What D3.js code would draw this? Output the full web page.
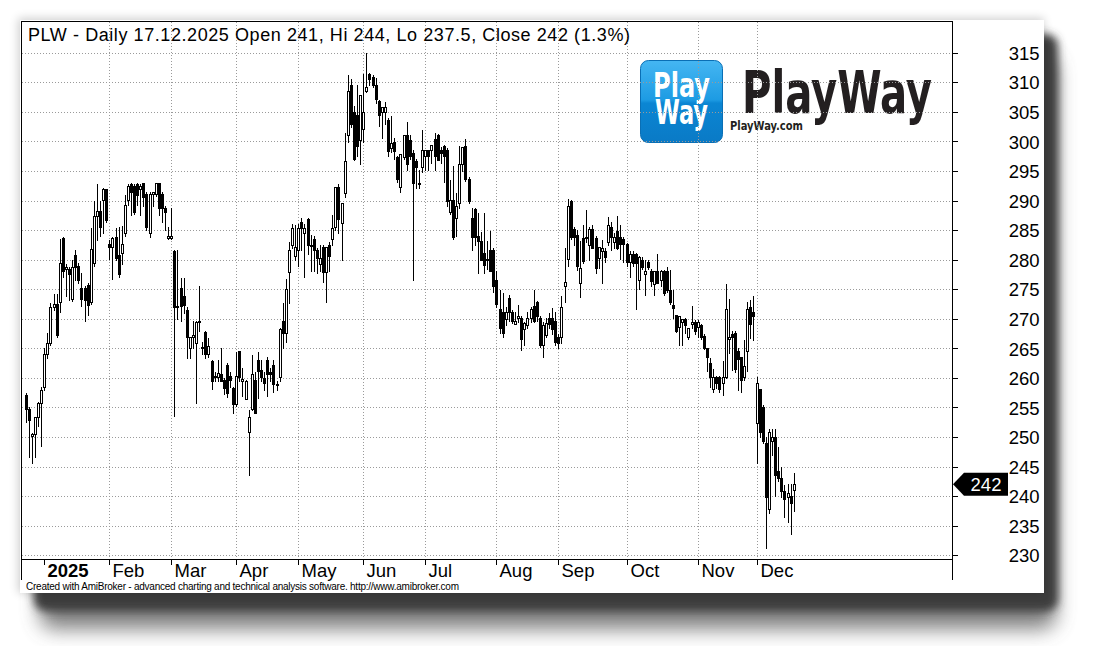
<!DOCTYPE html>
<html><head><meta charset="utf-8">
<script src="https://cdn.jsdelivr.net/npm/d3@7"></script>
<style>html,body{margin:0;padding:0;background:#fff;} svg{display:block;}</style>
</head><body>
<svg id="c" width="1097" height="646"></svg>
<script>
// ---- DATA ----
const ticker = "PLW";
const titleText = "PLW - Daily 17.12.2025 Open 241, Hi 244, Lo 237.5, Close 242 (1.3%)";
const footerText = "Created with AmiBroker - advanced charting and technical analysis software. http://www.amibroker.com";
const firstDate = "2024-12-18";
const holidays = ["2024-12-24","2024-12-25","2024-12-26","2024-12-31","2025-01-01","2025-01-06",
  "2025-04-18","2025-04-21","2025-05-01","2025-06-19","2025-08-15","2025-11-11"];
const monthNames = ["Jan","Feb","Mar","Apr","May","Jun","Jul","Aug","Sep","Oct","Nov","Dec"];
const yTickValues = [230,235,240,245,250,255,260,265,270,275,280,285,290,295,300,305,310,315];
const lastClose = 242;

const open = [257.1,254.7,250.1,250.5,253.4,255.7,258.4,264.1,265.9,272.0,272.5,272.8,283.6,278.4,278.4,273.3,280.8,279.0,275.2,275.2,
275.7,272.8,279.4,287.4,288.3,290.1,291.9,282.7,282.1,283.9,280.8,281.2,284.5,290.1,292.8,292.5,292.8,291.9,292.9,291.1,
284.5,291.1,291.1,292.9,291.1,288.7,283.6,283.6,281.4,272.0,275.2,273.8,271.5,265.0,267.0,265.9,269.5,265.2,267.7,264.0,
262.8,260.2,260.2,260.7,259.6,262.1,260.3,258.3,255.6,264.5,259.5,256.5,250.9,254.7,259.7,263.1,261.3,260.0,263.1,261.0,
262.1,258.9,260.2,269.6,267.6,277.9,282.4,280.6,281.7,286.3,284.5,286.8,282.5,283.5,281.7,279.3,282.1,277.9,282.5,283.5,
285.5,292.3,286.2,291.3,301.1,309.6,305.0,304.4,300.3,302.1,308.6,311.4,310.9,309.6,306.8,304.9,304.9,303.6,298.8,299.9,
297.4,292.3,297.4,301.1,300.3,298.0,296.7,293.0,295.7,297.6,298.5,298.5,300.4,301.1,298.6,299.3,298.6,288.0,290.1,287.0,
289.6,296.1,299.2,293.6,287.0,288.6,284.0,283.1,281.1,280.1,281.7,281.7,276.6,271.6,271.1,270.0,273.5,271.1,269.1,270.1,
270.1,268.2,269.0,270.1,272.1,272.9,270.1,265.6,267.3,270.1,270.1,269.6,267.0,267.0,275.5,280.1,290.0,285.1,284.2,276.0,
283.7,283.9,282.5,285.2,283.7,280.3,281.4,281.5,283.0,285.5,283.0,284.9,283.9,283.5,282.6,279.6,281.0,281.0,276.5,280.0,
277.5,279.6,278.0,275.9,278.0,276.5,278.0,278.0,274.9,272.4,270.6,268.6,269.5,270.0,266.9,269.1,269.4,268.6,269.0,267.1,
265.0,262.5,258.1,260.1,260.1,259.1,260.1,266.5,267.5,267.6,264.5,263.5,260.1,264.6,272.0,271.1,252.4,258.1,255.1,249.0,
237.9,249.4,250.0,244.2,243.0,240.9,239.9,240.0,241.0];
const high = [257.5,255.0,250.6,253.4,256.0,258.4,265.1,267.6,272.6,274.2,274.2,283.5,283.8,279.2,278.8,279.9,281.7,279.4,277.8,275.5,
276.0,285.3,290.0,292.8,290.0,292.2,292.0,283.3,283.8,285.3,285.5,285.7,291.0,292.8,292.9,292.8,292.9,292.8,292.9,291.4,
291.4,291.5,292.9,292.9,291.4,289.0,285.5,288.7,281.7,281.7,276.9,276.9,272.0,267.0,269.7,269.7,275.6,266.0,268.0,266.7,
263.1,261.0,263.1,265.0,260.0,262.5,261.0,258.5,264.4,264.6,261.6,259.6,254.5,263.8,261.0,264.4,263.1,261.0,263.5,261.6,
263.0,259.5,268.5,272.7,276.8,283.0,286.0,285.8,286.1,287.1,286.0,287.0,284.2,284.0,282.0,282.4,282.5,282.1,283.0,287.5,
292.3,292.8,289.5,301.5,311.3,310.6,306.0,309.5,307.8,311.4,315.0,311.5,311.3,310.8,307.0,305.8,306.7,304.0,304.3,300.5,
297.5,297.9,301.1,303.3,301.0,298.5,297.0,295.2,302.0,298.5,298.6,299.4,301.5,301.2,299.0,299.4,298.8,293.5,295.9,291.3,
299.2,299.0,300.4,294.0,288.7,288.8,287.9,284.6,287.9,283.1,284.8,282.0,278.0,274.9,274.4,272.0,274.0,271.5,271.1,272.4,
270.5,269.5,271.1,272.0,274.9,273.0,270.5,269.5,270.1,271.0,271.8,271.1,267.5,273.8,282.0,290.2,290.1,285.5,285.0,283.1,
285.9,288.4,285.6,285.9,284.0,282.1,283.3,282.0,287.2,286.3,284.5,287.3,285.8,283.8,282.8,281.5,281.5,281.2,280.6,280.4,
279.9,279.9,278.5,278.0,281.0,278.2,278.3,278.8,278.2,274.8,270.6,270.4,270.0,270.2,268.5,272.2,269.8,269.8,269.2,267.5,
265.1,263.3,261.5,260.3,260.3,262.9,275.9,273.3,268.0,267.9,265.0,263.6,266.4,272.9,273.1,273.9,260.2,258.2,255.5,250.0,
251.3,251.3,251.3,248.4,244.9,241.9,242.0,242.0,244.0];
const low = [252.5,246.6,245.6,246.6,251.8,248.5,258.0,263.3,265.5,271.5,267.0,271.1,277.0,273.8,273.2,273.0,276.6,276.0,272.1,269.7,
270.7,272.5,279.0,283.3,284.0,284.5,286.4,280.1,276.7,280.0,277.0,279.2,284.0,289.3,287.5,287.8,289.3,287.5,289.0,285.0,
283.9,289.0,290.8,287.5,286.4,285.0,283.5,283.5,253.5,270.0,269.7,271.0,263.3,263.3,265.0,255.8,268.0,264.0,263.3,263.5,
258.1,259.5,259.4,259.4,257.3,256.8,258.5,254.0,255.3,259.5,256.9,256.5,243.5,254.5,254.0,256.6,259.5,258.0,257.0,259.5,
257.6,258.0,259.5,265.1,266.1,272.6,281.9,280.0,279.0,281.7,277.1,281.0,278.0,278.0,277.8,278.0,276.2,272.8,278.0,282.4,
285.0,284.5,279.9,290.6,299.9,302.5,296.8,297.6,296.2,299.9,308.3,309.5,309.2,306.5,302.6,300.5,303.0,297.5,298.2,297.0,
293.2,291.4,297.0,295.1,297.0,276.6,292.1,292.1,294.9,295.2,295.2,296.3,295.2,296.9,296.3,293.2,289.1,287.8,283.5,284.0,
288.7,295.0,293.3,289.6,281.7,282.4,277.7,280.0,277.7,278.4,278.0,274.5,272.0,267.6,267.0,269.0,269.6,269.3,269.1,269.5,
264.7,265.6,268.5,269.5,269.5,269.6,265.3,263.6,267.0,268.5,267.5,265.5,265.1,265.9,272.9,279.0,283.5,282.5,278.3,273.7,
279.5,283.0,280.0,282.0,277.7,278.6,276.0,279.6,282.4,281.7,282.0,281.8,280.1,279.6,279.0,277.0,279.0,271.7,275.1,278.5,
274.1,278.5,275.6,274.1,276.0,275.6,274.1,274.5,272.5,270.2,267.7,265.6,265.5,267.6,266.6,268.5,267.5,267.0,266.6,264.9,
261.1,258.4,257.7,258.3,257.7,257.1,260.0,264.2,261.3,261.0,258.0,257.6,259.6,261.1,266.7,266.4,245.6,250.0,249.0,231.2,
237.1,247.0,240.0,242.5,239.9,236.5,235.6,233.6,237.5];
const close = [254.7,252.8,250.5,253.4,255.7,258.0,264.1,265.9,272.0,272.5,267.2,279.4,278.1,278.8,277.5,278.8,278.8,276.5,273.3,273.2,
272.4,281.8,287.4,288.3,285.5,291.9,286.7,282.1,283.6,280.2,277.5,282.7,289.3,292.5,291.4,288.1,291.0,292.5,290.6,285.5,
291.1,291.4,292.9,288.7,288.7,288.0,284.0,284.0,272.0,272.1,272.1,272.4,266.9,266.9,267.2,269.5,269.6,265.0,264.0,265.4,
259.4,260.4,260.8,259.4,258.3,257.5,259.7,255.6,260.3,260.2,259.8,259.4,253.4,260.7,254.1,261.1,260.2,259.2,260.7,260.7,
258.9,258.9,268.2,267.6,275.1,281.7,285.4,282.1,285.4,285.3,285.4,282.5,282.3,281.6,280.2,280.2,277.9,282.1,280.7,285.4,
292.3,286.8,289.5,296.6,308.6,303.0,297.0,299.3,307.8,305.0,309.2,310.6,309.6,307.2,304.4,305.8,305.8,298.3,299.8,298.3,
293.6,297.9,301.1,296.1,297.6,293.0,295.6,293.0,298.5,298.5,297.6,299.4,297.5,296.9,298.0,297.6,290.0,290.1,283.9,289.1,
296.1,299.0,293.6,290.0,283.9,283.9,283.1,280.0,279.1,280.1,278.0,275.5,272.5,268.4,267.6,271.1,271.1,269.6,269.7,270.5,
266.5,269.3,270.1,271.6,269.7,270.4,265.6,269.0,269.3,269.2,268.2,266.1,265.9,272.0,276.2,289.1,283.9,283.9,279.0,278.6,
279.7,283.7,285.2,282.0,278.6,282.1,282.0,280.4,285.9,283.8,283.9,282.0,282.6,282.6,279.6,281.0,279.4,279.4,280.4,278.8,
278.0,278.8,276.4,278.0,276.0,278.0,274.3,274.9,272.8,271.8,268.0,270.4,270.0,269.0,268.5,269.4,268.0,269.4,267.0,265.0,
263.5,260.1,260.1,259.1,258.1,260.1,271.6,267.0,267.0,261.5,263.2,259.6,262.0,271.6,269.1,270.5,259.1,250.9,249.4,239.9,
250.9,250.0,243.6,243.0,240.8,239.5,240.5,238.8,242.0];

// ---- trading calendar (categories) ----
function tradingDays(startStr, n) {
  const out = [];
  const d = new Date(startStr + "T12:00:00Z");
  const hol = new Set(holidays);
  while (out.length < n) {
    const wd = d.getUTCDay();
    const s = d.toISOString().slice(0,10);
    if (wd !== 0 && wd !== 6 && !hol.has(s)) out.push(new Date(d));
    d.setUTCDate(d.getUTCDate() + 1);
  }
  return out;
}
const dates = tradingDays(firstDate, close.length);
const bars = dates.map((dt, i) => ({i, date: dt, o: open[i], h: high[i], l: low[i], c: close[i]}));
const monthTicks = [];
for (let i = 1; i < dates.length; i++) {
  if (dates[i].getUTCMonth() !== dates[i-1].getUTCMonth()) {
    const m = dates[i].getUTCMonth();
    monthTicks.push({i, label: m === 0 ? String(dates[i].getUTCFullYear()) : monthNames[m], year: m === 0});
  }
}

// ---- LAYOUT ----
const svg = d3.select("#c");
const card = {x: 20, y: 20, w: 1024, h: 573};
const plot = {left: 21, top: 21, right: 952, bottom: 559};
const x = d3.scaleLinear().domain([0, 248]).range([25.7, 25.7 + 3.097 * 248]);
const y = d3.scaleLinear().domain([230, 315]).range([555.3, 52.7]);

const defs = svg.append("defs");
const f1 = defs.append("filter").attr("id","blurA").attr("x","-10%").attr("y","-10%").attr("width","120%").attr("height","130%");
f1.append("feGaussianBlur").attr("stdDeviation", 4);
const f2 = defs.append("filter").attr("id","blurB").attr("x","-10%").attr("y","-10%").attr("width","120%").attr("height","130%");
f2.append("feGaussianBlur").attr("stdDeviation", 10);
const f3 = defs.append("filter").attr("id","blurC").attr("x","-10%").attr("y","-10%").attr("width","120%").attr("height","130%");
f3.append("feGaussianBlur").attr("stdDeviation", 5);
const lg = defs.append("linearGradient").attr("id","blueG").attr("x1",0).attr("y1",0).attr("x2",0).attr("y2",1);
lg.append("stop").attr("offset","0%").attr("stop-color","#45b6f2");
lg.append("stop").attr("offset","48%").attr("stop-color","#1d9be3");
lg.append("stop").attr("offset","52%").attr("stop-color","#0b86d3");
lg.append("stop").attr("offset","100%").attr("stop-color","#0a7ac6");

// shadows
svg.append("rect").attr("x", card.x + 20).attr("y", card.y + 36).attr("width", card.w - 8).attr("height", card.h)
  .attr("rx", 14).attr("fill", "#555").attr("opacity", 0.75).attr("filter", "url(#blurB)");
svg.append("rect").attr("x", card.x + 14).attr("y", card.y + 14).attr("width", card.w).attr("height", card.h + 4)
  .attr("rx", 12).attr("fill", "#3e3e3e").attr("filter", "url(#blurA)");
svg.append("rect").attr("x", card.x - 2).attr("y", card.y - 2).attr("width", card.w + 2).attr("height", card.h + 2)
  .attr("fill", "#000").attr("opacity", 0.18).attr("filter", "url(#blurC)");
// card
svg.append("rect").attr("x", card.x).attr("y", card.y).attr("width", card.w).attr("height", card.h).attr("fill", "#fff");

// ---- logo ----
const logoFont = "DejaVu Sans Condensed, DejaVu Sans";
const logo = svg.append("g");
logo.append("rect").attr("x", 640.5).attr("y", 60.5).attr("width", 82).attr("height", 82).attr("rx", 8)
  .attr("fill", "url(#blueG)").attr("stroke", "#0a6fb5").attr("stroke-width", 1);
const lt1 = logo.append("text").attr("font-family", logoFont).attr("font-weight", "bold").attr("fill", "#fff").attr("font-size", 33);
lt1.append("tspan").attr("x", 653).attr("y", 96.5).attr("textLength", 57).attr("lengthAdjust", "spacingAndGlyphs").text("Play");
lt1.append("tspan").attr("x", 655).attr("y", 124).attr("textLength", 53).attr("lengthAdjust", "spacingAndGlyphs").text("Way");
const lt2 = logo.append("text").attr("font-family", logoFont).attr("font-weight", "bold").attr("fill", "#231f20");
lt2.append("tspan").attr("x", 742).attr("y", 113).attr("font-size", 59).attr("textLength", 190).attr("lengthAdjust", "spacingAndGlyphs").text("PlayWay");
lt2.append("tspan").attr("x", 730).attr("y", 129.5).attr("font-size", 12).attr("textLength", 73).attr("lengthAdjust", "spacingAndGlyphs").text("PlayWay.com");

// ---- grid ----
const grid = svg.append("g").attr("stroke", "#9a9a9a").attr("stroke-width", 1).attr("stroke-dasharray", "1,2").attr("shape-rendering", "crispEdges");
grid.selectAll("line.h").data(yTickValues).join("line")
  .attr("x1", plot.left + 1).attr("x2", plot.right)
  .attr("y1", d => Math.round(y(d)) + 0.5).attr("y2", d => Math.round(y(d)) + 0.5);
grid.selectAll("line.v").data(monthTicks.filter(t => !t.year)).join("line")
  .attr("x1", d => Math.round(x(d.i)) + 0.5).attr("x2", d => Math.round(x(d.i)) + 0.5)
  .attr("y1", plot.top + 1).attr("y2", plot.bottom);

// ---- candles ----
const cg = svg.append("g").attr("shape-rendering", "crispEdges");
const cx = d => Math.round(x(d.i));
cg.selectAll("line.w").data(bars).join("line")
  .attr("x1", d => cx(d) + 0.5).attr("x2", d => cx(d) + 0.5)
  .attr("y1", d => Math.round(y(d.h))).attr("y2", d => Math.round(y(d.l)) + 1)
  .attr("stroke", "#000").attr("stroke-width", 1);
cg.selectAll("rect.b").data(bars).join("rect")
  .attr("x", d => cx(d) - 0.5)
  .attr("y", d => Math.round(y(Math.max(d.o, d.c))) + 0.5)
  .attr("width", 2)
  .attr("height", d => Math.max(1, Math.round(y(Math.min(d.o, d.c))) - Math.round(y(Math.max(d.o, d.c)))))
  .attr("fill", d => d.c >= d.o ? "#fff" : "#000")
  .attr("stroke", "#000").attr("stroke-width", 1);

// ---- frame & axes ----
const fr = svg.append("g").attr("stroke", "#000").attr("stroke-width", 1).attr("shape-rendering", "crispEdges");
fr.append("line").attr("x1", 21.5).attr("x2", 21.5).attr("y1", 21).attr("y2", 580);
fr.append("line").attr("x1", 21).attr("x2", 952).attr("y1", 21.5).attr("y2", 21.5);
fr.append("line").attr("x1", 952.5).attr("x2", 952.5).attr("y1", 21).attr("y2", 580);
fr.append("line").attr("x1", 21).attr("x2", 952).attr("y1", 559.5).attr("y2", 559.5);

const yAxis = d3.axisRight(y).tickValues(yTickValues).tickSize(5).tickFormat(d3.format("d"));
const ya = svg.append("g").attr("transform", "translate(952.5,0)").call(yAxis);
ya.select(".domain").remove();
ya.selectAll(".tick line").attr("stroke", "#000").attr("shape-rendering", "crispEdges");
ya.selectAll(".tick text").attr("x", 87).attr("dy", "0.36em").attr("text-anchor", "end")
  .attr("font-family", "Liberation Sans, Arial, sans-serif").attr("font-size", 18.5).attr("fill", "#000");

const xAxis = d3.axisBottom(x).tickValues(monthTicks.map(t => t.i)).tickSize(5)
  .tickFormat(i => monthTicks.find(t => t.i === i).label);
const xa = svg.append("g").attr("transform", "translate(0.5,559.5)").call(xAxis);
xa.select(".domain").remove();
xa.selectAll(".tick").attr("transform", i => `translate(${Math.round(x(i))},0)`);
xa.selectAll(".tick line").attr("stroke", "#000").attr("shape-rendering", "crispEdges");
xa.selectAll(".tick text").attr("x", 3).attr("y", 0).attr("dy", 17.5).attr("text-anchor", "start")
  .attr("font-family", "Liberation Sans, Arial, sans-serif").attr("font-size", 18.5).attr("fill", "#000")
  .attr("font-weight", i => monthTicks.find(t => t.i === i).year ? "bold" : "normal");

// last price marker
const ly = y(lastClose);
svg.append("path")
  .attr("d", `M953,${ly} L964,${ly - 11.5} L1008,${ly - 11.5} L1008,${ly + 11.5} L964,${ly + 11.5} Z`)
  .attr("fill", "#000");
svg.append("text").attr("x", 986).attr("y", ly + 6.5).attr("text-anchor", "middle")
  .attr("font-family", "Liberation Sans, Arial, sans-serif").attr("font-size", 18.5).attr("fill", "#fff").text(lastClose);

// title & footer
svg.append("text").attr("x", 28).attr("y", 40.5).attr("textLength", 602).attr("lengthAdjust", "spacing")
  .attr("font-family", "Liberation Sans, Arial, sans-serif").attr("font-size", 18).attr("fill", "#000").text(titleText);
svg.append("text").attr("x", 26).attr("y", 590).attr("textLength", 433).attr("lengthAdjust", "spacing")
  .attr("font-family", "Liberation Sans, Arial, sans-serif").attr("font-size", 10).attr("fill", "#000").text(footerText);
</script>
</body></html>
